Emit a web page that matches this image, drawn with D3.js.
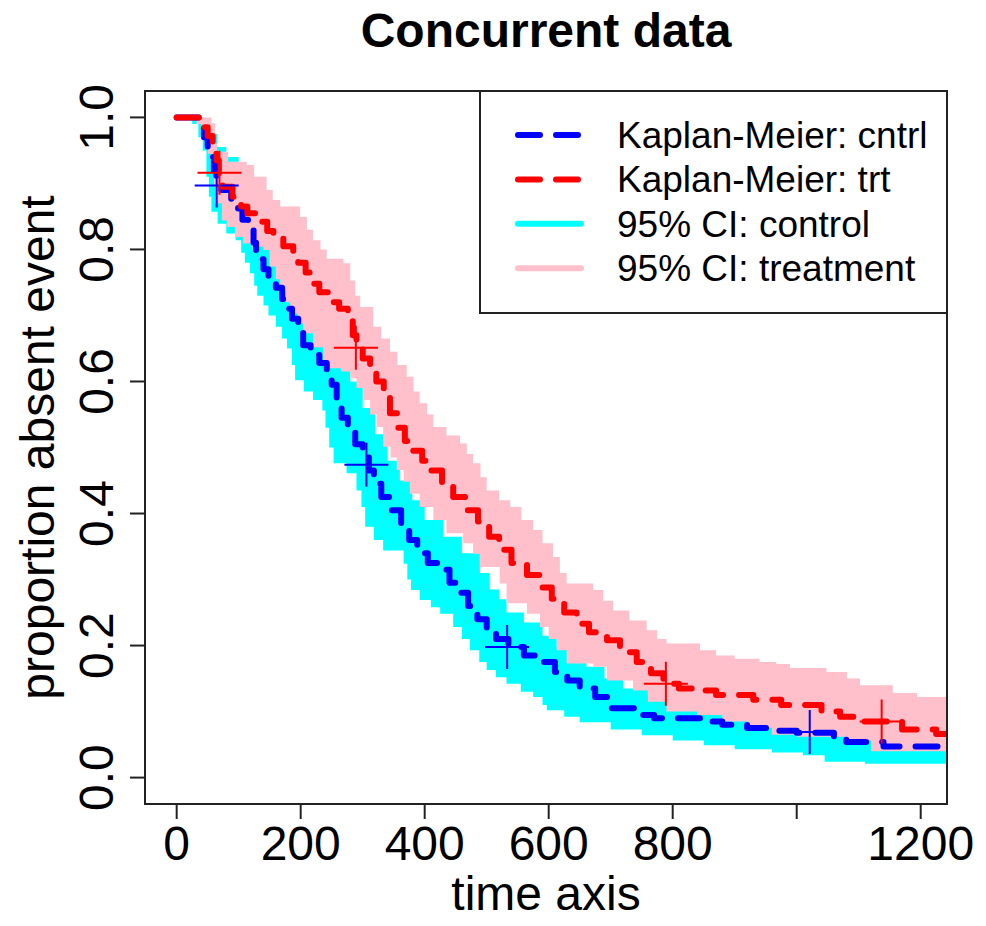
<html>
<head>
<script src="https://d3js.org/d3.v7.min.js"></script>
<style>
  body { margin: 0; background: #fff; }
  text { font-family: "Liberation Sans", Arial, sans-serif; fill: #000; }
</style>
</head>
<body>
<svg id="chart" width="986" height="926"></svg>
<script>
// Kaplan-Meier estimates, [time, proportion] at each drop (step after)
const kmControl = [
  [0, 1.0], [38, 0.985], [44, 0.97], [50, 0.955], [56, 0.94], [60, 0.92], [64, 0.90],
  [72, 0.89], [88, 0.875], [99, 0.862], [106, 0.845], [115, 0.83], [124, 0.81], [128, 0.785],
  [140, 0.77], [148, 0.755], [160, 0.742], [170, 0.725], [178, 0.71], [186, 0.695], [196, 0.675],
  [204, 0.655], [216, 0.64], [230, 0.628], [242, 0.615], [250, 0.595], [258, 0.565], [266, 0.545],
  [276, 0.525], [288, 0.505], [300, 0.485], [310, 0.465], [318, 0.445], [330, 0.425], [345, 0.405],
  [362, 0.385], [375, 0.36], [388, 0.34], [405, 0.325], [420, 0.315], [440, 0.295], [455, 0.28],
  [470, 0.26], [485, 0.24], [500, 0.225], [515, 0.21], [535, 0.198], [560, 0.185], [585, 0.175],
  [610, 0.16], [630, 0.147], [650, 0.135], [675, 0.122], [700, 0.105], [740, 0.095], [770, 0.09],
  [850, 0.085], [880, 0.08], [920, 0.075], [960, 0.071], [1000, 0.068], [1060, 0.06], [1080, 0.054],
  [1140, 0.047], [1242, 0.047]
];
const kmTreat = [
  [0, 1.0], [42, 0.985], [50, 0.972], [58, 0.955], [64, 0.935], [68, 0.915], [74, 0.895],
  [90, 0.88], [104, 0.865], [114, 0.855], [130, 0.842], [146, 0.828], [156, 0.818], [172, 0.805],
  [188, 0.795], [196, 0.78], [208, 0.765], [220, 0.748], [230, 0.735], [250, 0.72], [262, 0.71],
  [276, 0.695], [284, 0.67], [290, 0.65], [300, 0.635], [312, 0.615], [322, 0.60], [334, 0.575],
  [344, 0.552], [356, 0.53], [368, 0.51], [380, 0.495], [396, 0.48], [410, 0.465], [428, 0.445],
  [446, 0.425], [466, 0.405], [486, 0.388], [504, 0.365], [520, 0.345], [540, 0.325], [565, 0.307],
  [585, 0.288], [605, 0.271], [625, 0.25], [645, 0.233], [665, 0.22], [694, 0.208], [715, 0.19],
  [742, 0.175], [765, 0.158], [785, 0.142], [810, 0.135], [841, 0.132], [870, 0.125], [930, 0.118],
  [975, 0.11], [1040, 0.10], [1070, 0.092], [1100, 0.085], [1170, 0.073], [1225, 0.066], [1242, 0.066]
];

// 95% confidence limits
const ciControlLow = [
  [0, 1.0], [25, 0.99], [35, 0.97], [42, 0.95], [48, 0.91], [52, 0.88], [56, 0.857], [66, 0.839],
  [80, 0.824], [95, 0.814], [104, 0.795], [110, 0.78], [118, 0.764], [125, 0.745], [130, 0.73],
  [140, 0.715], [148, 0.70], [160, 0.683], [170, 0.665], [178, 0.65], [186, 0.625], [191, 0.602],
  [205, 0.585], [220, 0.572], [235, 0.556], [240, 0.53], [246, 0.50], [253, 0.476], [274, 0.461],
  [290, 0.435], [298, 0.41], [304, 0.38], [318, 0.36], [333, 0.344], [366, 0.324], [372, 0.30],
  [378, 0.284], [392, 0.269], [410, 0.258], [425, 0.248], [446, 0.228], [460, 0.21], [473, 0.193],
  [488, 0.175], [500, 0.163], [515, 0.152], [532, 0.142], [555, 0.13], [575, 0.122], [590, 0.11],
  [597, 0.102], [625, 0.092], [650, 0.084], [700, 0.073], [750, 0.064], [800, 0.056], [850, 0.049],
  [900, 0.043], [960, 0.038], [1010, 0.034], [1045, 0.024], [1110, 0.021], [1242, 0.021]
];
const ciControlHigh = [
  [0, 1.0], [45, 0.995], [55, 0.975], [65, 0.955], [80, 0.94], [100, 0.915], [120, 0.89],
  [140, 0.86], [160, 0.83], [180, 0.80], [200, 0.76], [220, 0.72], [240, 0.69], [260, 0.64],
  [280, 0.60], [300, 0.56], [320, 0.52], [340, 0.48], [360, 0.45], [380, 0.42], [400, 0.39],
  [430, 0.365], [460, 0.34], [489, 0.31], [505, 0.285], [520, 0.27], [532, 0.25], [560, 0.235],
  [590, 0.215], [613, 0.198], [640, 0.18], [661, 0.168], [690, 0.15], [720, 0.135], [760, 0.125],
  [820, 0.118], [880, 0.11], [960, 0.10], [1040, 0.09], [1100, 0.08], [1160, 0.07], [1242, 0.07]
];
const ciTreatLow = [
  [0, 1.0], [32, 0.99], [40, 0.968], [50, 0.945], [56, 0.925], [60, 0.895], [62, 0.87],
  [73, 0.844], [81, 0.834], [94, 0.819], [107, 0.809], [121, 0.804], [140, 0.799], [150, 0.774],
  [160, 0.755], [167, 0.738], [176, 0.72], [183, 0.703], [195, 0.688], [204, 0.673], [220, 0.652],
  [236, 0.627], [247, 0.62], [265, 0.615], [280, 0.605], [290, 0.59], [301, 0.572], [312, 0.55],
  [323, 0.531], [333, 0.501], [345, 0.485], [355, 0.466], [366, 0.448], [376, 0.43], [392, 0.41],
  [414, 0.39], [435, 0.37], [462, 0.355], [478, 0.339], [489, 0.319], [521, 0.294], [532, 0.264],
  [565, 0.248], [586, 0.228], [600, 0.21], [613, 0.193], [629, 0.173], [672, 0.168], [694, 0.147],
  [736, 0.132], [760, 0.115], [790, 0.10], [840, 0.095], [880, 0.085], [920, 0.075], [960, 0.065],
  [1000, 0.062], [1080, 0.056], [1120, 0.04], [1242, 0.038]
];
const ciTreatHigh = [
  [0, 1.0], [56, 0.991], [62, 0.96], [65, 0.948], [83, 0.933], [113, 0.928], [125, 0.91],
  [145, 0.89], [155, 0.875], [167, 0.865], [199, 0.849], [210, 0.83], [220, 0.814], [232, 0.80],
  [242, 0.786], [269, 0.779], [280, 0.753], [288, 0.73], [296, 0.713], [317, 0.683], [330, 0.665],
  [344, 0.645], [356, 0.625], [371, 0.607], [382, 0.585], [392, 0.567], [404, 0.55], [414, 0.531],
  [435, 0.518], [457, 0.506], [468, 0.49], [478, 0.476], [490, 0.455], [500, 0.435], [520, 0.42],
  [538, 0.41], [556, 0.39], [575, 0.375], [590, 0.355], [607, 0.334], [618, 0.31], [629, 0.294],
  [672, 0.284], [688, 0.268], [704, 0.253], [730, 0.238], [758, 0.223], [775, 0.21], [790, 0.203],
  [844, 0.193], [870, 0.185], [900, 0.18], [940, 0.175], [967, 0.172], [989, 0.166], [1048, 0.16],
  [1081, 0.15], [1102, 0.14], [1155, 0.128], [1194, 0.122], [1242, 0.122]
];

// "+" marks
const marksControl = [[64.5, 0.897], [306, 0.474], [533, 0.198], [1021, 0.069]];
const marksTreat = [[69, 0.916], [289, 0.651], [789, 0.142], [1137, 0.085]];

const xTicks = [0, 200, 400, 600, 800, 1000, 1200];
const xTickLabels = ["0", "200", "400", "600", "800", "", "1200"];
const yTicks = [0, 0.2, 0.4, 0.6, 0.8, 1.0];

const legendLabels = ["Kaplan-Meier: cntrl", "Kaplan-Meier: trt", "95% CI: control", "95% CI: treatment"];
const legendColors = ["#0000ff", "#ff0000", "#00ffff", "#ffc0cb"];
const legendDashed = [true, true, false, false];

const svg = d3.select("#chart");
const plot = { left: 145, right: 947, top: 91, bottom: 804 };

const x = d3.scaleLinear().domain([-51.1, 1242.4]).range([plot.left, plot.right]);
const y = d3.scaleLinear().domain([-0.04, 1.04]).range([plot.bottom, plot.top]);

svg.append("rect").attr("width", 986).attr("height", 926).attr("fill", "#fff");

svg.append("clipPath").attr("id", "clip")
  .append("rect")
  .attr("x", plot.left).attr("y", plot.top)
  .attr("width", plot.right - plot.left).attr("height", plot.bottom - plot.top);

const g = svg.append("g").attr("clip-path", "url(#clip)");

const stepLine = d3.line().x(d => x(d[0])).y(d => y(d[1])).curve(d3.curveStepAfter);
const stepBack = d3.line().x(d => x(d[0])).y(d => y(d[1])).curve(d3.curveStepBefore);

// band = upper steps forward, then lower steps backward
function band(low, high) {
  return stepLine(high) + stepBack(low.slice().reverse()).replace(/^M/, "L") + "Z";
}

g.append("path").attr("d", band(ciControlLow, ciControlHigh)).attr("fill", "#00ffff");
g.append("path").attr("d", band(ciTreatLow, ciTreatHigh)).attr("fill", "#ffc0cb");

g.append("path").datum(kmControl).attr("d", stepLine)
  .attr("fill", "none").attr("stroke", "#0000ff").attr("stroke-width", 6)
  .attr("stroke-dasharray", "22 16").attr("stroke-linecap", "round").attr("stroke-linejoin", "round");
g.append("path").datum(kmTreat).attr("d", stepLine)
  .attr("fill", "none").attr("stroke", "#ff0000").attr("stroke-width", 6)
  .attr("stroke-dasharray", "22 16").attr("stroke-linecap", "round").attr("stroke-linejoin", "round");

function crosses(data, color) {
  const s = 22;
  g.selectAll(null).data(data).join("path")
    .attr("d", d => {
      const cx = x(d[0]), cy = y(d[1]);
      return `M${cx - s},${cy}H${cx + s}M${cx},${cy - s}V${cy + s}`;
    })
    .attr("stroke", color).attr("stroke-width", 2).attr("fill", "none");
}
crosses(marksControl, "#0000ff");
crosses(marksTreat, "#ff0000");

// box
svg.append("rect")
  .attr("x", plot.left).attr("y", plot.top)
  .attr("width", plot.right - plot.left).attr("height", plot.bottom - plot.top)
  .attr("fill", "none").attr("stroke", "#222").attr("stroke-width", 2);

// x axis
svg.selectAll("line.xt").data(xTicks).join("line")
  .attr("x1", d => x(d)).attr("x2", d => x(d))
  .attr("y1", plot.bottom).attr("y2", plot.bottom + 15)
  .attr("stroke", "#222").attr("stroke-width", 2);
svg.selectAll("text.xl").data(xTicks).join("text")
  .attr("x", d => x(d)).attr("y", 860)
  .attr("text-anchor", "middle").attr("font-size", 48)
  .text((d, i) => xTickLabels[i]);

// y axis
svg.selectAll("line.yt").data(yTicks).join("line")
  .attr("x1", plot.left - 15).attr("x2", plot.left)
  .attr("y1", d => y(d)).attr("y2", d => y(d))
  .attr("stroke", "#222").attr("stroke-width", 2);
svg.selectAll("text.yl").data(yTicks).join("text")
  .attr("transform", d => `translate(113,${y(d)}) rotate(-90)`)
  .attr("text-anchor", "middle").attr("font-size", 48)
  .text(d => d3.format(".1f")(d));

// titles
svg.append("text").attr("x", 546).attr("y", 47)
  .attr("text-anchor", "middle").attr("font-size", 48).attr("font-weight", "bold")
  .text("Concurrent data");
svg.append("text").attr("x", 546).attr("y", 910)
  .attr("text-anchor", "middle").attr("font-size", 48)
  .text("time axis");
svg.append("text")
  .attr("transform", `translate(54,${(plot.top + plot.bottom) / 2}) rotate(-90)`)
  .attr("text-anchor", "middle").attr("font-size", 48)
  .text("proportion absent event");

// legend
const legend = svg.append("g");
legend.append("rect")
  .attr("x", 480).attr("y", plot.top).attr("width", plot.right - 480).attr("height", 313 - plot.top)
  .attr("fill", "#fff").attr("stroke", "#222").attr("stroke-width", 2);
legendLabels.forEach((lab, i) => {
  const ly = 135 + i * 44.4;
  legend.append("line")
    .attr("x1", 518).attr("x2", legendDashed[i] ? 578 : 581)
    .attr("y1", ly).attr("y2", ly)
    .attr("stroke", legendColors[i]).attr("stroke-width", 6)
    .attr("stroke-linecap", "round")
    .attr("stroke-dasharray", legendDashed[i] ? "22 16" : null);
  legend.append("text")
    .attr("x", 617).attr("y", ly + 13)
    .attr("font-size", 37)
    .text(lab);
});
</script>
</body>
</html>
